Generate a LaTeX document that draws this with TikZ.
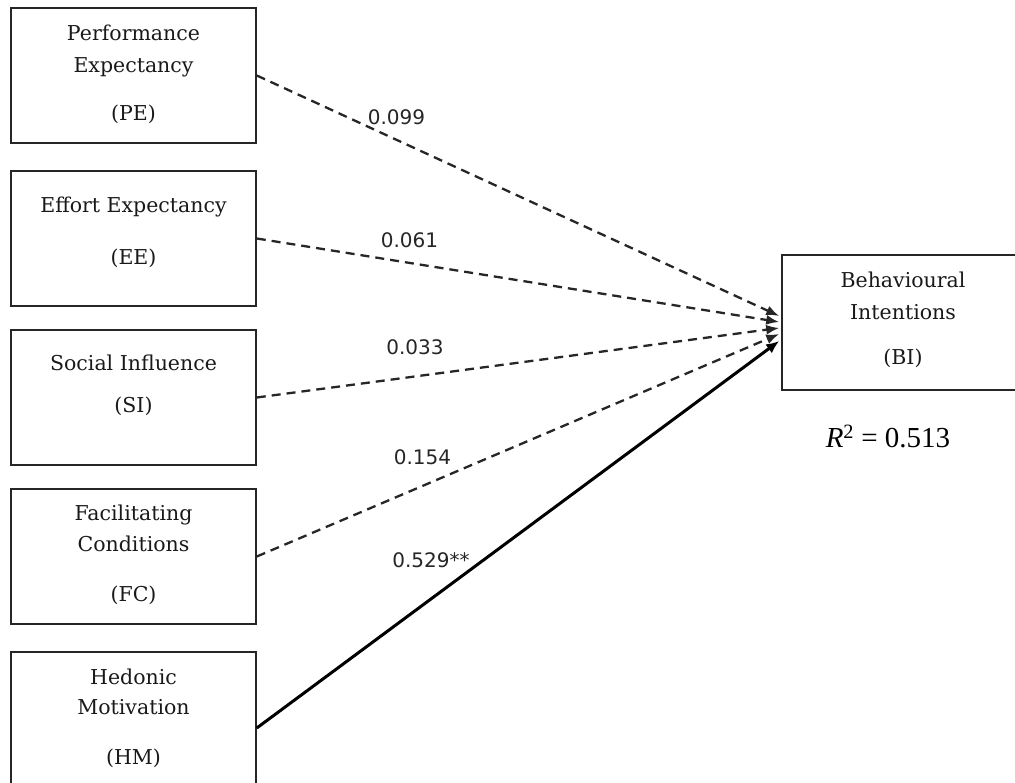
\documentclass[tikz,border=0pt]{standalone}
\usepackage{fontspec}
\setmainfont{DejaVu Serif}
\newfontfamily\coeffont{DejaVu Sans}
\newfontfamily\statfont{Liberation Serif}
\usetikzlibrary{arrows.meta,calc}
\begin{document}
\begin{tikzpicture}[x=1pt,y=-1pt,
  construct/.style={draw=black!85, line width=1.6pt, minimum width=245pt,
                    minimum height=135pt, inner sep=0pt},
  word/.style={font=\fontsize{20.5}{24}\selectfont, text height=15pt,
               text depth=0pt, inner sep=0pt, text=black!90},
  coef/.style={font=\coeffont\fontsize{20}{24}\selectfont, text height=14.6pt,
               text depth=0pt, inner sep=0pt, text=black!85},
  nsig/.style={draw=black!85, line width=2.3pt, dash pattern=on 9pt off 6pt,
               -{Latex[length=13pt,width=10pt]}},
  sig/.style={draw=black, line width=3pt, -{Latex[length=13pt,width=11pt]}}
]
\useasboundingbox (0,0) rectangle (1015,783);

% exogenous constructs
\node[construct] (pe) at (133.5,75.5) {};
\node[construct] (ee) at (133.5,238.5) {};
\node[construct] (si) at (133.5,397.5) {};
\node[construct] (fc) at (133.5,556.5) {};
\node[construct, minimum height=152pt] (hm) at (133.5,728) {};
% endogenous construct
\node[construct] (bi) at (904.5,322.5) {};

% construct names
\node[word] (pe1) at (133.5,33) {Performance};
\node[word] (pe2) at (133.5,65) {Expectancy};
\node[word] (pe3) at (133.5,113) {(PE)};
\node[word] (ee1) at (133.5,205) {Effort Expectancy};
\node[word] (ee2) at (133.5,257) {(EE)};
\node[word] (si1) at (133.5,363) {Social Influence};
\node[word] (si2) at (133.5,405) {(SI)};
\node[word] (fc1) at (133.5,513) {Facilitating};
\node[word] (fc2) at (133.5,544) {Conditions};
\node[word] (fc3) at (133.5,594) {(FC)};
\node[word] (hm1) at (133.5,677) {Hedonic};
\node[word] (hm2) at (133.5,707) {Motivation};
\node[word] (hm3) at (133.5,757) {(HM)};
\node[word] (bi1) at (903,280) {Behavioural};
\node[word] (bi2) at (903,312) {Intentions};
\node[word] (bi3) at (903,357) {(BI)};

% explained variance
\node[font=\statfont\fontsize{29}{34}\selectfont, text height=20pt, text depth=0pt,
      inner sep=0pt] (r2) at (888,438) {\textit{R}\textsuperscript{2} = 0.513};

% arrow targets on the left side of BI
\coordinate (tpe) at ($(bi.west)+(-2,-6.5)$);
\coordinate (tee) at ($(bi.west)+(-2,-0.5)$);
\coordinate (tsi) at ($(bi.west)+(-2,5.5)$);
\coordinate (tfc) at ($(bi.west)+(-2,11.5)$);
\coordinate (thm) at ($(bi.west)+(-2,18.5)$);

% paths
\draw[nsig] (pe.east) -- (tpe);
\draw[nsig] (ee.east) -- (tee);
\draw[nsig] (si.east) -- (tsi);
\draw[nsig] (fc.east) -- (tfc);
\draw[sig]  (hm.east) -- (thm);

% path coefficients
\node[coef] (cpe) at (396.5,117) {0.099};
\node[coef] (cee) at (409.5,240) {0.061};
\node[coef] (csi) at (415,347.5) {0.033};
\node[coef] (cfc) at (422.5,457.5) {0.154};
\node[coef] (chm) at (431,560) {0.529**};
\end{tikzpicture}
\end{document}
